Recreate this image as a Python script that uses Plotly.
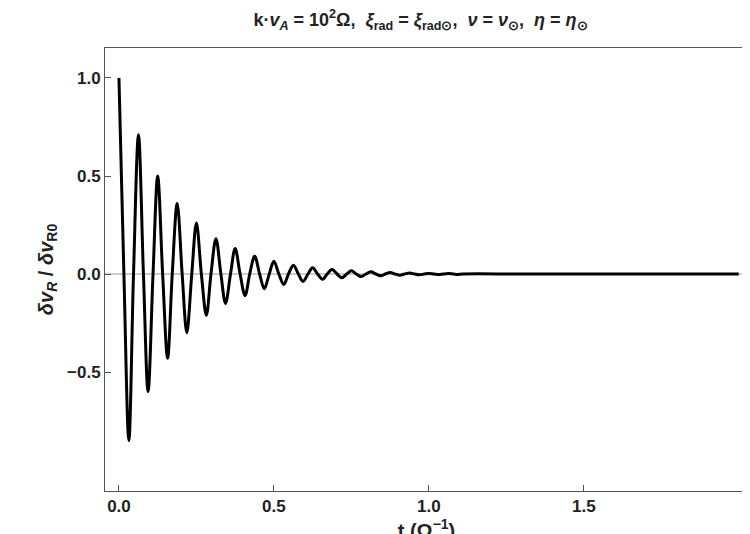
import plotly.graph_objects as go

# extrema and zero crossings
t_ext = [0.0, 0.032, 0.063, 0.094, 0.125, 0.157, 0.188, 0.219, 0.250, 0.282,
         0.313, 0.344, 0.375, 0.407, 0.438, 0.469, 0.500, 0.532, 0.563, 0.594,
         0.625, 0.657, 0.688, 0.719, 0.750, 0.782, 0.813, 0.844, 0.875, 0.907,
         0.938, 0.969, 1.000, 1.032, 1.063, 1.094]
v_ext = [1.0, -0.85, 0.71, -0.60, 0.50, -0.43, 0.36, -0.30, 0.26, -0.21,
         0.18, -0.15, 0.13, -0.11, 0.09, -0.075, 0.065, -0.053, 0.045, -0.038,
         0.032, -0.027, 0.023, -0.019, 0.016, -0.013, 0.011, -0.009, 0.008, -0.006,
         0.005, -0.004, 0.003, -0.003, 0.002, -0.002]
t_zero = [0.016, 0.047, 0.079, 0.110, 0.141, 0.172, 0.204, 0.235, 0.266, 0.297,
          0.329, 0.360, 0.391, 0.422, 0.454, 0.485, 0.516, 0.547, 0.579, 0.610,
          0.641, 0.672, 0.704, 0.735, 0.766, 0.797, 0.829, 0.860, 0.891, 0.922,
          0.954, 0.985, 1.016, 1.047, 1.079, 1.110, 1.3, 1.6, 2.0]

pts = sorted(list(zip(t_ext, v_ext)) + [(t, 0.0) for t in t_zero])
t = [p[0] for p in pts]
v = [p[1] for p in pts]

fig = go.Figure()
fig.add_trace(go.Scatter(x=t, y=v, mode="lines", line=dict(color="black", width=3, shape="spline", smoothing=1.0)))
fig.add_hline(y=0, line=dict(color="#999", width=1), layer="below")

font = dict(family="Liberation Sans, Arial", size=17, color="#222")
fig.update_layout(
    width=750, height=534, plot_bgcolor="white", paper_bgcolor="white",
    margin=dict(l=97, r=10, t=40, b=51, autoexpand=False), showlegend=False,
    font=font,
    title=dict(text="<b>k·<i>v</i><sub><i>A</i></sub> = 10<sup>2</sup>Ω,  <i>ξ</i><sub>rad</sub> = <i>ξ</i><sub>rad⊙</sub>,  <i>ν</i> = <i>ν</i><sub>⊙</sub>,  <i>η</i> = <i>η</i><sub>⊙</sub></b>",
               x=0.55, xanchor="center", y=0.99, yanchor="top", font=dict(size=18)),
)
axis = dict(showline=True, linecolor="#555", linewidth=1, mirror=True, showgrid=False,
            zeroline=False, ticks="inside", ticklen=6, tickcolor="#555", automargin=False,
            tickfont=dict(size=17, color="#222"))
fig.update_xaxes(range=[-0.045, 2.03], tickvals=[0, 0.5, 1.0, 1.5],
                 ticktext=["<b>0.0</b>", "<b>0.5</b>", "<b>1.0</b>", "<b>1.5</b>"],
                 title=dict(text="<b>t (Ω<sup>−1</sup>)</b>", standoff=4), **axis)
fig.update_yaxes(range=[-1.107, 1.153], tickvals=[-0.5, 0, 0.5, 1.0],
                 ticktext=["<b>−0.5</b>", "<b>0.0</b>", "<b>0.5</b>", "<b>1.0</b>"],
                 title=dict(text="<b><i>δv</i><sub><i>R</i></sub> / <i>δv</i><sub>R0</sub></b>", standoff=8), **axis)
fig.write_html("out.html")
